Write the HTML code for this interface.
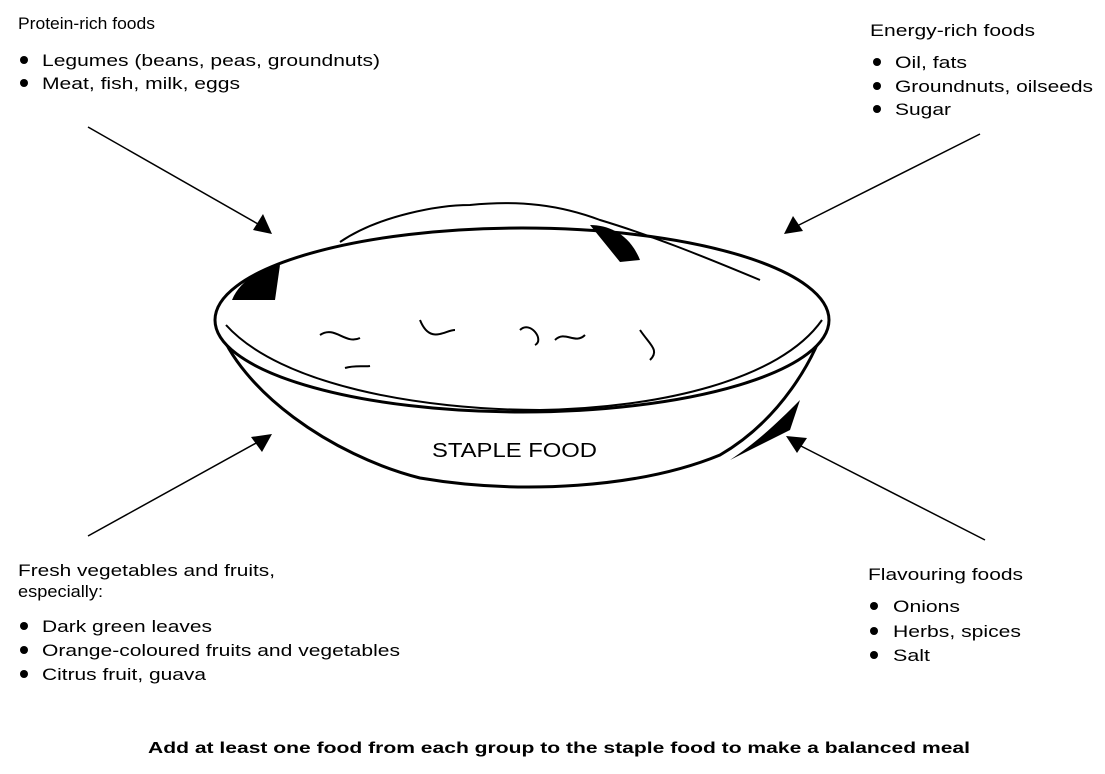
<!DOCTYPE html>
<html><head><style>
body{margin:0;background:#fff;}
svg text{font-family:"Liberation Sans",sans-serif;fill:#000;}
</style></head><body>
<svg width="1105" height="769" viewBox="0 0 1105 769" xmlns="http://www.w3.org/2000/svg">
<g font-size="17" lengthAdjust="spacingAndGlyphs">
<text x="18" y="29" textLength="137" lengthAdjust="spacingAndGlyphs">Protein-rich foods</text>
<circle cx="24" cy="60" r="4"/><text x="42" y="66" textLength="338" lengthAdjust="spacingAndGlyphs">Legumes (beans, peas, groundnuts)</text>
<circle cx="24" cy="83" r="4"/><text x="42" y="89" textLength="198" lengthAdjust="spacingAndGlyphs">Meat, fish, milk, eggs</text>

<text x="870" y="36" textLength="165" lengthAdjust="spacingAndGlyphs">Energy-rich foods</text>
<circle cx="877" cy="62" r="4"/><text x="895" y="68" textLength="72" lengthAdjust="spacingAndGlyphs">Oil, fats</text>
<circle cx="877" cy="86" r="4"/><text x="895" y="92" textLength="198" lengthAdjust="spacingAndGlyphs">Groundnuts, oilseeds</text>
<circle cx="877" cy="109" r="4"/><text x="895" y="115" textLength="56" lengthAdjust="spacingAndGlyphs">Sugar</text>

<text x="18" y="576" textLength="257" lengthAdjust="spacingAndGlyphs">Fresh vegetables and fruits,</text>
<text x="18" y="597" textLength="85" lengthAdjust="spacingAndGlyphs">especially:</text>
<circle cx="24" cy="626" r="4"/><text x="42" y="632" textLength="170" lengthAdjust="spacingAndGlyphs">Dark green leaves</text>
<circle cx="24" cy="650" r="4"/><text x="42" y="656" textLength="358" lengthAdjust="spacingAndGlyphs">Orange-coloured fruits and vegetables</text>
<circle cx="24" cy="674" r="4"/><text x="42" y="680" textLength="164" lengthAdjust="spacingAndGlyphs">Citrus fruit, guava</text>

<text x="868" y="580" textLength="155" lengthAdjust="spacingAndGlyphs">Flavouring foods</text>
<circle cx="874" cy="606" r="4"/><text x="893" y="612" textLength="67" lengthAdjust="spacingAndGlyphs">Onions</text>
<circle cx="874" cy="631" r="4"/><text x="893" y="637" textLength="128" lengthAdjust="spacingAndGlyphs">Herbs, spices</text>
<circle cx="874" cy="655" r="4"/><text x="893" y="661" textLength="37" lengthAdjust="spacingAndGlyphs">Salt</text>
</g>
<text x="148" y="753" font-size="16" font-weight="bold" textLength="822" lengthAdjust="spacingAndGlyphs">Add at least one food from each group to the staple food to make a balanced meal</text>

<g stroke="#000" stroke-width="1.5">
<line x1="88" y1="127" x2="258" y2="224"/>
<line x1="980" y1="134" x2="797" y2="226"/>
<line x1="88" y1="536" x2="258" y2="442"/>
<line x1="985" y1="540" x2="797" y2="444"/>
</g>
<polygon points="272,234 253,230 263,214"/>
<polygon points="784,234 793,216 803,231"/>
<polygon points="272,434 251,437 262,452"/>
<polygon points="786,436 807,438 797,453"/>

<!-- bowl -->
<path d="M218,325 C240,390 330,455 420,478 C520,495 640,488 720,455 C780,420 815,360 828,315" fill="none" stroke="#000" stroke-width="3"/>
<ellipse cx="522" cy="320" rx="307" ry="92" fill="#fff" stroke="#000" stroke-width="3"/>
<path d="M226,325 C280,385 420,410 540,410 C660,408 780,380 822,320" fill="none" stroke="#000" stroke-width="2"/>
<path d="M340,242 C380,215 440,205 470,205 C520,200 560,205 600,220 C650,235 700,255 760,280" fill="none" stroke="#000" stroke-width="2"/>
<path d="M232,300 C240,280 260,270 280,265 L275,300 Z"/>
<path d="M590,225 C610,225 630,235 640,260 L620,262 Z"/>
<path d="M730,460 C760,440 780,420 800,400 L790,430 Z" />
<g fill="none" stroke="#000" stroke-width="2">
<path d="M320,335 C335,325 345,345 360,338"/><path d="M420,320 C430,345 445,330 455,330"/>
<path d="M520,330 C530,320 545,340 535,345"/><path d="M555,340 C565,330 575,345 585,335"/>
<path d="M640,330 C650,345 660,350 650,360"/><path d="M345,368 C355,365 365,367 370,366"/>
</g>
<text x="432" y="457" font-size="20" textLength="165" lengthAdjust="spacingAndGlyphs">STAPLE FOOD</text>
</svg>
</body></html>
